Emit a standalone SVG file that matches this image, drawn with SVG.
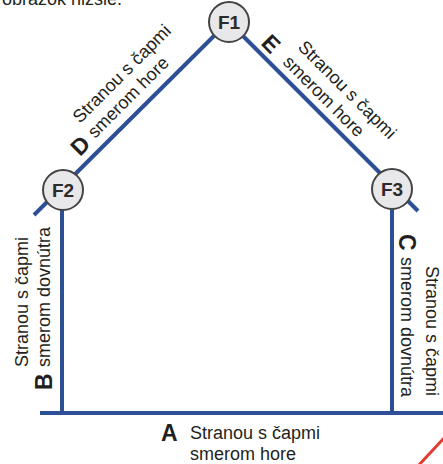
<svg xmlns="http://www.w3.org/2000/svg" width="443" height="464" viewBox="0 0 443 464">
<style>
  .wall { stroke: #2c4f95; stroke-width: 4; fill: none; stroke-linecap: butt; }
  .red { stroke: #e53a30; stroke-width: 3; fill: none; }
  .node circle { fill: #e8e8ea; stroke: #444; stroke-width: 2; }
  .node text { font-family: "Liberation Sans", Arial, sans-serif; font-weight: bold; font-size: 19px; fill: #2b2b2b; text-anchor: middle; }
  .lbl { font-family: "Liberation Sans", Arial, sans-serif; font-size: 18px; fill: #231f20; }
  .let { font-family: "Liberation Sans", Arial, sans-serif; font-weight: bold; font-size: 23px; fill: #231f20; }
</style>
<rect width="443" height="464" fill="#ffffff"/>
<text class="lbl" x="2" y="5">obrázok nižšie.</text>
<g id="connectors">
  <line class="wall" x1="34" y1="215" x2="229" y2="21"/>
  <line class="wall" x1="229" y1="22" x2="418" y2="211"/>
  <line class="wall" x1="62" y1="200" x2="62" y2="413"/>
  <line class="wall" x1="392" y1="200" x2="392" y2="413"/>
  <line class="wall" x1="40" y1="413" x2="443" y2="413"/>
  <line class="red" x1="418" y1="466" x2="445" y2="437"/>
</g>
<g id="F1" class="node"><circle cx="229" cy="22" r="20"/><text x="229" y="29">F1</text></g>
<g id="F2" class="node"><circle cx="63" cy="190" r="20"/><text x="63" y="197">F2</text></g>
<g id="F3" class="node"><circle cx="392" cy="189" r="20"/><text x="392" y="196">F3</text></g>
<g id="label-D">
  <text class="let" transform="translate(80,157) rotate(-45)">D</text>
  <text class="lbl" transform="translate(80,124) rotate(-45)">Stranou s čapmi</text>
  <text class="lbl" transform="translate(95,139) rotate(-45)">smerom hore</text>
</g>
<g id="label-E">
  <text class="let" transform="translate(260,44) rotate(45)">E</text>
  <text class="lbl" transform="translate(297,48) rotate(45)">Stranou s čapmi</text>
  <text class="lbl" transform="translate(282,63) rotate(45)">smerom hore</text>
</g>
<g id="label-B">
  <text class="let" transform="translate(52,390) rotate(-90)">B</text>
  <text class="lbl" transform="translate(28,367) rotate(-90)">Stranou s čapmi</text>
  <text class="lbl" transform="translate(50,367) rotate(-90)">smerom dovnútra</text>
</g>
<g id="label-C">
  <text class="let" transform="translate(399,234) rotate(90)">C</text>
  <text class="lbl" transform="translate(426,266) rotate(90)">Stranou s čapmi</text>
  <text class="lbl" transform="translate(401,257) rotate(90)">smerom dovnútra</text>
</g>
<g id="label-A">
  <text class="let" x="161" y="441">A</text>
  <text class="lbl" x="190" y="439">Stranou s čapmi</text>
  <text class="lbl" x="190" y="460">smerom hore</text>
</g>
</svg>
